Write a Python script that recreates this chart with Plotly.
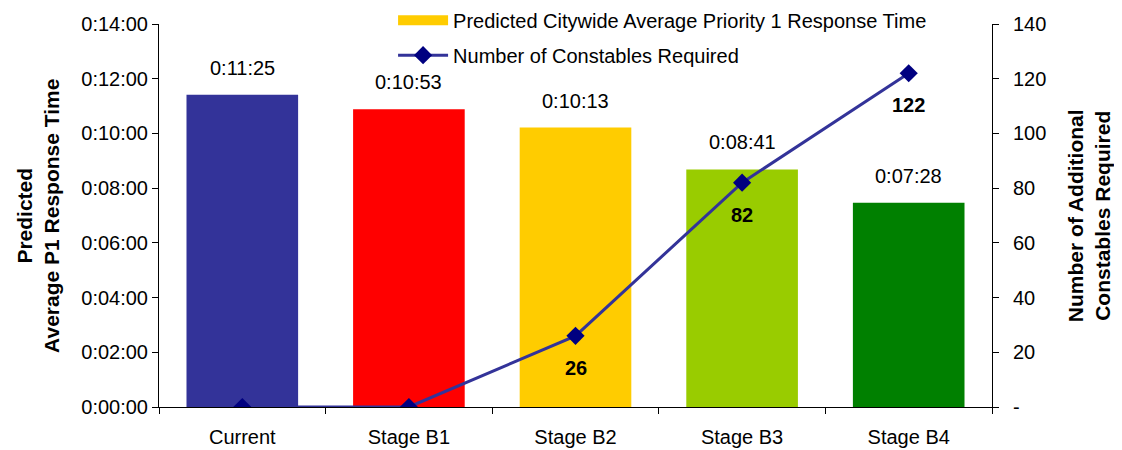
import plotly.graph_objects as go

categories = ["Current", "Stage B1", "Stage B2", "Stage B3", "Stage B4"]
response_labels = ["0:11:25", "0:10:53", "0:10:13", "0:08:41", "0:07:28"]
response_seconds = [685, 653, 613, 521, 448]
constables = [0, 0, 26, 82, 122]
bar_colors = ["#333399", "#FF0000", "#FFCC00", "#99CC00", "#008000"]

left_tickvals = [0, 120, 240, 360, 480, 600, 720, 840]
left_ticktext = ["0:00:00", "0:02:00", "0:04:00", "0:06:00", "0:08:00", "0:10:00", "0:12:00", "0:14:00"]
right_tickvals = [0, 20, 40, 60, 80, 100, 120, 140]
right_ticktext = ["-", "20", "40", "60", "80", "100", "120", "140"]

FONT = "Arial, Liberation Sans, sans-serif"

fig = go.Figure()
fig.add_trace(go.Bar(
    x=categories, y=response_seconds, marker=dict(color=bar_colors, line=dict(width=0)),
    width=0.67, showlegend=False, hoverinfo="skip"))
fig.add_trace(go.Scatter(
    x=[None], y=[None], mode="lines", line=dict(color="#FFCC00", width=12),
    name="Predicted Citywide Average Priority 1 Response Time", legendgroup="a"))
fig.add_trace(go.Scatter(
    x=categories, y=constables, yaxis="y2", mode="lines+markers",
    line=dict(color="#333399", width=3),
    marker=dict(symbol="diamond", size=14, color="#000080"),
    name="Number of Constables Required", legendgroup="b"))

annotations = []
for c, v, t in zip(categories, response_seconds, response_labels):
    annotations.append(dict(x=c, y=v, xref="x", yref="y", text=t, showarrow=False,
                            yshift=27, font=dict(size=20, color="black", family=FONT)))
for c, v in zip(categories, constables):
    if v > 0:
        annotations.append(dict(x=c, y=v, xref="x", yref="y2", text="<b>%d</b>" % v,
                                showarrow=False, yshift=-32,
                                font=dict(size=20, color="black", family=FONT)))
annotations.append(dict(x=-0.146, y=0.5, xref="paper", yref="paper", textangle=-90,
                        xanchor="center", yanchor="middle",
                        text="<b>Predicted<br>Average P1 Response Time</b>", showarrow=False,
                        font=dict(size=21, color="black", family=FONT)))
annotations.append(dict(x=1.116, y=0.5, xref="paper", yref="paper", textangle=-90,
                        xanchor="center", yanchor="middle",
                        text="<b>Number of Additional<br>Constables Required</b>", showarrow=False,
                        font=dict(size=21, color="black", family=FONT)))

fig.update_layout(
    width=1114, height=442,
    margin=dict(l=151, r=130, t=16, b=43, autoexpand=False),
    paper_bgcolor="white", plot_bgcolor="white",
    barmode="overlay",
    font=dict(family=FONT, size=20, color="black"),
    xaxis=dict(type="category", range=[-0.5, 4.5], showline=True, linecolor="black",
               linewidth=1, ticks="outside", tickson="boundaries", ticklen=6,
               tickcolor="black", showgrid=False, tickfont=dict(size=20),
               ticklabelstandoff=12),
    yaxis=dict(range=[0, 840], tickvals=left_tickvals, ticktext=left_ticktext,
               showline=True, linecolor="black", linewidth=1, ticks="outside", ticklen=6,
               tickcolor="black", showgrid=False, zeroline=False, tickfont=dict(size=20)),
    yaxis2=dict(range=[0, 140], tickvals=right_tickvals, ticktext=right_ticktext,
                overlaying="y", side="right", showline=True, linecolor="black", linewidth=1,
                ticks="outside", ticklen=6, tickcolor="black", showgrid=False, zeroline=False,
                tickfont=dict(size=20), ticklabelstandoff=10),
    legend=dict(x=0.281, y=1.061, xanchor="left", yanchor="top", bgcolor="rgba(0,0,0,0)",
                traceorder="grouped", tracegroupgap=6, itemwidth=50,
                font=dict(size=20, family=FONT)),
    annotations=annotations,
)

fig.write_html("out.html")
